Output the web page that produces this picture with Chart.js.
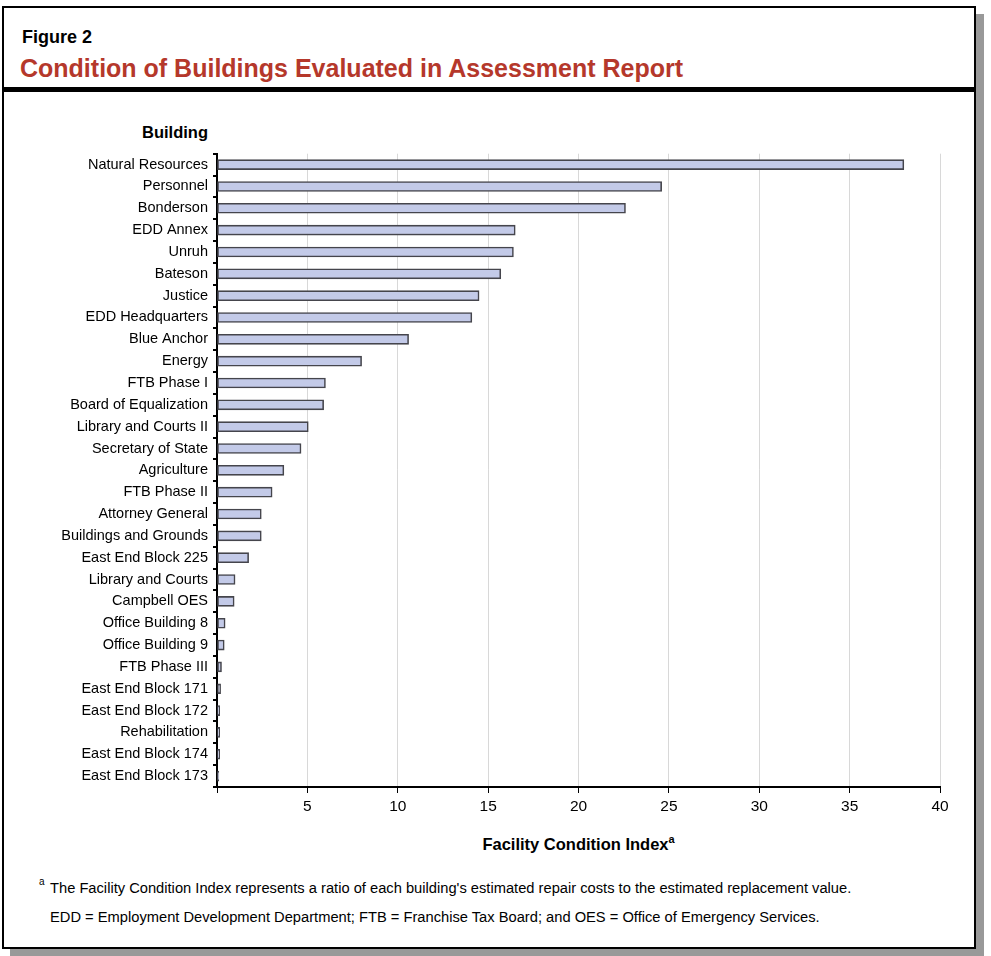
<!DOCTYPE html>
<html>
<head>
<meta charset="utf-8">
<script src="https://cdn.jsdelivr.net/npm/chart.js@4/dist/chart.umd.min.js"></script>
<style>
    html, body { margin: 0; padding: 0; background: #fff; }
    body { width: 991px; height: 956px; position: relative; overflow: hidden;
           font-family: "Liberation Sans", Arial, Helvetica, sans-serif; color: #000; }
    #frame { position: absolute; left: 2px; top: 6px; width: 970px; height: 939px;
             border: 2px solid #000; box-shadow: 8px 8px 0 #999; background: #fff; }
    #rule { position: absolute; left: 2px; top: 87px; width: 974px; height: 5px; background: #000; }
    .abs { position: absolute; white-space: nowrap; line-height: 1; }
    #fig { left: 22px; top: 28px; font-size: 18px; font-weight: bold; }
    #title { left: 20px; top: 56px; font-size: 25px; font-weight: bold; color: #b5382b; }
    #ylabel { right: 783px; top: 124px; font-size: 16.5px; font-weight: bold; }
    #xlabel { left: 0; width: 1157px; text-align: center; top: 834px; font-size: 16.5px; font-weight: bold; }
    #xlabel sup { font-size: 11px; }
    .note { left: 50px; font-size: 14.7px; }
    .note sup { font-size: 10px; position: absolute; left: -11px; top: -4px; }
    #note1 { top: 881px; }
    #note2 { top: 910px; }
    #wrap { position: absolute; left: 0; top: 140px; width: 975px; height: 677px; }
</style>
</head>
<body>
<div id="frame"></div>
<div id="rule"></div>
<div class="abs" id="fig">Figure 2</div>
<div class="abs" id="title">Condition of Buildings Evaluated in Assessment Report</div>
<div class="abs" id="ylabel">Building</div>
<div id="wrap"><canvas id="chart"></canvas></div>
<div class="abs" id="xlabel">Facility Condition Index<sup>a</sup></div>
<div class="abs note" id="note1"><sup>a</sup>The Facility Condition Index represents a ratio of each building's estimated repair costs to the estimated replacement value.</div>
<div class="abs note" id="note2">EDD = Employment Development Department; FTB = Franchise Tax Board; and OES = Office of Emergency Services.</div>
<script>
(function() {
    "use strict";

    var buildings = [
        "Natural Resources", "Personnel", "Bonderson", "EDD Annex", "Unruh",
        "Bateson", "Justice", "EDD Headquarters", "Blue Anchor", "Energy",
        "FTB Phase I", "Board of Equalization", "Library and Courts II",
        "Secretary of State", "Agriculture", "FTB Phase II", "Attorney General",
        "Buildings and Grounds", "East End Block 225", "Library and Courts",
        "Campbell OES", "Office Building 8", "Office Building 9", "FTB Phase III",
        "East End Block 171", "East End Block 172", "Rehabilitation",
        "East End Block 174", "East End Block 173"
    ];
    var fci = [
        38.0, 24.6, 22.6, 16.5, 16.4,
        15.7, 14.5, 14.1, 10.6, 8.0,
        6.0, 5.9, 5.05,
        4.65, 3.7, 3.05, 2.45,
        2.45, 1.75, 1.0,
        0.95, 0.45, 0.4, 0.25,
        0.2, 0.15, 0.15,
        0.15, 0.1
    ];
    var xTicks = [0, 5, 10, 15, 20, 25, 30, 35, 40];

    var FONT = "'Liberation Sans', Arial, Helvetica, sans-serif";
    var BAR_FILL = "#c3cae8";
    var BAR_EDGE = "#45454c";
    var GRID_COLOR = "#d8d8d8";

    new Chart(document.getElementById("chart"), {
        type: "bar",
        data: {
            labels: buildings,
            datasets: [{
                data: fci,
                backgroundColor: BAR_FILL,
                borderColor: BAR_EDGE,
                borderWidth: 1.6,
                borderSkipped: false,
                barThickness: 10
            }]
        },
        options: {
            indexAxis: "y",
            responsive: true,
            maintainAspectRatio: false,
            animation: false,
            devicePixelRatio: 1,
            layout: { padding: { top: 12, right: 35, left: 0, bottom: 0 } },
            plugins: {
                legend: { display: false },
                tooltip: { enabled: false }
            },
            scales: {
                x: {
                    min: 0,
                    max: 40,
                    afterBuildTicks: function(axis) {
                        axis.ticks = xTicks.map(function(v) { return { value: v }; });
                    },
                    afterFit: function(axis) { axis.height = 30; },
                    ticks: {
                        color: "#000",
                        font: { family: FONT, size: 15.5 },
                        padding: 4,
                        maxRotation: 0,
                        callback: function(v) { return v === 0 ? "" : v; }
                    },
                    grid: {
                        color: function(ctx) { return ctx.tick && ctx.tick.value === 0 ? "rgba(0,0,0,0)" : GRID_COLOR; },
                        lineWidth: 1,
                        tickColor: "#000",
                        tickLength: 6
                    },
                    border: { color: "#000", width: 2 }
                },
                y: {
                    afterFit: function(axis) { axis.width = 217; },
                    ticks: {
                        color: "#000",
                        font: { family: FONT, size: 14.5 },
                        padding: 5,
                        autoSkip: false
                    },
                    grid: {
                        offset: true,
                        drawOnChartArea: false,
                        tickColor: "#000",
                        tickLength: 4,
                        lineWidth: 2
                    },
                    border: { color: "#000", width: 2 }
                }
            }
        }
    });
}());
</script>
</body>
</html>
